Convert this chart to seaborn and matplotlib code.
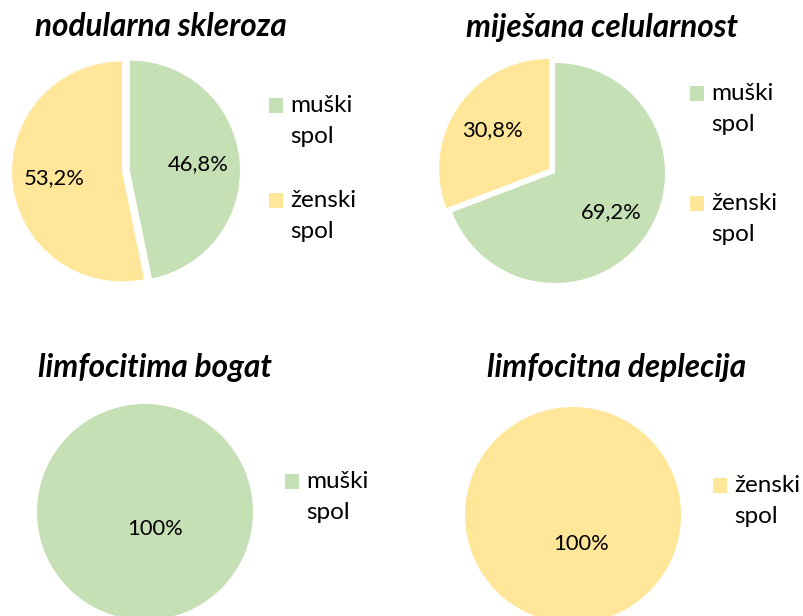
import matplotlib
matplotlib.use("Agg")
import matplotlib.pyplot as plt
import seaborn as sns
from matplotlib.patches import Rectangle
from matplotlib.legend_handler import HandlerPatch

# data
titles = ["nodularna skleroza", "miješana celularnost",
          "limfocitima bogat", "limfocitna deplecija"]
categories = ["muški spol", "ženski spol"]
nodularna = [46.8, 53.2]
mijesana = [69.2, 30.8]
bogat = [100.0, 0.0]
deplecija = [0.0, 100.0]

palette = sns.color_palette(["#C5E0B4", "#FFE699"])

sns.set_theme(style="white")
plt.rcParams['font.family'] = ['Lato', 'DejaVu Sans']

W, H = 804, 616
fig = plt.figure(figsize=(W / 100, H / 100), dpi=100)

# layout in pixels: pie center, radius, explode, startangle, pctdistance,
# legend anchor, legend spacing, title position
layout = [
    dict(c=(126, 171), r=110, explode=[0.036, 0.036], start=90, pctd=0.62,
         leg=(269, 95), spacing=1.75, title=(161, 36)),
    dict(c=(555, 173), r=110, explode=[0.0, 0.065], start=90, pctd=0.62,
         leg=(690, 83), spacing=2.37, title=(602, 37)),
    dict(c=(145, 512), r=108, explode=[0.0], start=120.5, pctd=0.18,
         leg=(285, 471), spacing=1.75, title=(155, 377)),
    dict(c=(573, 515), r=108, explode=[0.0], start=106, pctd=0.28,
         leg=(713, 475), spacing=1.75, title=(617, 377)),
]
series = [nodularna, mijesana, bogat, deplecija]


def fmt(p):
    if p > 99.95:
        return "100%"
    return f"{p:.1f}%".replace(".", ",")


def raised(legend, orig_handle, xdescent, ydescent, width, height, fontsize):
    # square beside the first line of a two-line label
    return Rectangle((-xdescent, -ydescent + 0.64 * fontsize), width, height)


pad = 1.2
for vals, title, lay in zip(series, titles, layout):
    cx, cy = lay["c"]
    r = lay["r"]
    ax = fig.add_axes([(cx - pad * r) / W, 1 - (cy + pad * r) / H,
                       2 * pad * r / W, 2 * pad * r / H])
    keep = [i for i, v in enumerate(vals) if v > 0]
    v = [vals[i] for i in keep]
    cols = [palette[i] for i in keep]
    names = [categories[i] for i in keep]
    ax.pie(v, colors=cols, startangle=lay["start"], counterclock=False,
           explode=lay["explode"], autopct=fmt, pctdistance=lay["pctd"],
           textprops=dict(fontsize=15.8, color="black"),
           wedgeprops=dict(linewidth=0))
    ax.set_xlim(-pad, pad)
    ax.set_ylim(-pad, pad)

    handles = [Rectangle((0, 0), 1, 1, facecolor=c, linewidth=0) for c in cols]
    lx, ly = lay["leg"]
    leg = ax.legend(handles, [n.replace(" ", "\n") for n in names],
                    loc="upper left", bbox_to_anchor=(lx / W, 1 - ly / H),
                    bbox_transform=fig.transFigure, frameon=False,
                    fontsize=17.5, handlelength=0.58, handleheight=0.58,
                    handletextpad=0.3, labelspacing=lay["spacing"],
                    borderpad=0, borderaxespad=0,
                    handler_map={Rectangle: HandlerPatch(patch_func=raised)})
    for t in leg.get_texts():
        t.set_linespacing(1.6)
        t.set_color("black")

    tx, ty = lay["title"]
    fig.text(tx / W, 1 - ty / H, title, ha="center", va="baseline",
             fontsize=22.7, fontweight="bold", fontstyle="italic", color="black")

fig.savefig("out.png", dpi=100)
